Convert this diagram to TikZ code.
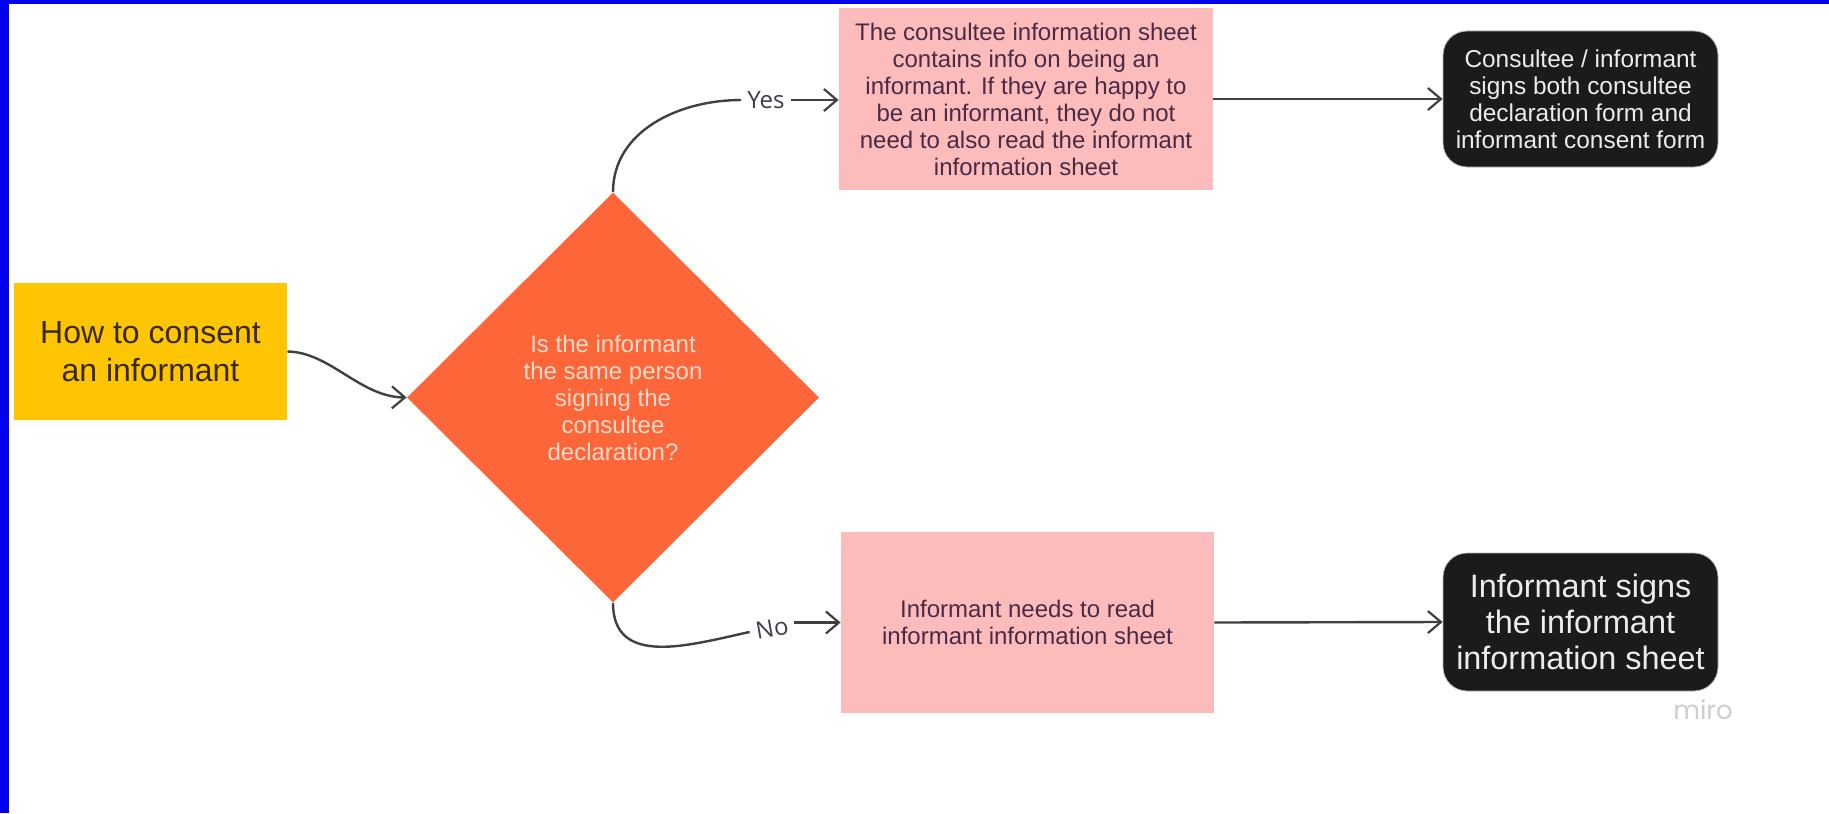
\documentclass[tikz,border=0pt]{standalone}
\usepackage{fontspec}
\setmainfont{Liberation Sans}
\newfontfamily\labelfont{Open Sans}
\newfontfamily\mirofont{Poppins}
\usetikzlibrary{shapes.geometric,arrows.meta}
\definecolor{frameblue}{RGB}{2,0,236}
\definecolor{ybox}{HTML}{FEC502}
\definecolor{ytext}{HTML}{3A2A0C}
\definecolor{dcol}{HTML}{FD6639}
\definecolor{dtext}{HTML}{FADACA}
\definecolor{pbox}{HTML}{FDBCBC}
\definecolor{ptext}{HTML}{4A2A44}
\definecolor{bbox}{HTML}{1B1B1B}
\definecolor{btext}{HTML}{ECECEC}
\definecolor{lineC}{HTML}{404040}
\definecolor{lblC}{HTML}{3E3E4E}
\definecolor{miroC}{HTML}{CDCDD4}
\begin{document}
\begin{tikzpicture}[x=0.5pt,y=-0.5pt,
  conn/.style={draw=lineC, line width=1.2pt},
  arr/.style={conn,-{Straight Barb[length=6.5pt,width=11pt,line width=1.1pt]}},
  pinkbox/.style={fill=pbox, inner sep=0pt, text=ptext, align=center, font=\fontsize{12}{13.5}\selectfont},
  blackbox/.style={fill=bbox, draw=gray!55, line width=0.4pt, rounded corners=12pt, inner sep=0pt, text=btext, align=center},
  lbl/.style={text=lblC, inner sep=3pt, font=\labelfont\fontsize{12}{12}\selectfont}]
\useasboundingbox (0,0) rectangle (1829,813);
\fill[white] (0,0) rectangle (1829,813);

\node[fill=ybox, minimum width=136.5pt, minimum height=68.5pt, inner sep=0pt, text=ytext, align=center, font=\fontsize{16}{19}\selectfont] (start) at (150.5,351.5) {How to consent\\an informant};

\node[diamond, aspect=1, fill=dcol, minimum width=206pt, minimum height=205pt, inner sep=0pt, text=dtext, align=center, font=\fontsize{12}{13.5}\selectfont] (dec) at (613,397.5) {Is the informant\\the same person\\signing the\\consultee\\declaration?};

\node[pinkbox, minimum width=187pt, minimum height=91pt] (p1) at (1026,99) {The consultee information sheet\\contains info on being an\\informant. If they are happy to\\be an informant, they do not\\need to also read the informant\\information sheet};

\node[pinkbox, minimum width=186.5pt, minimum height=90.5pt] (p2) at (1027.5,622.5) {Informant needs to read\\informant information sheet};

\node[blackbox, minimum width=137.5pt, minimum height=68pt, font=\fontsize{12.2}{13.5}\selectfont] (b1) at (1580.5,99) {Consultee / informant\\signs both consultee\\declaration form and\\informant consent form};

\node[blackbox, minimum width=137.5pt, minimum height=69pt, font=\fontsize{16.2}{18}\selectfont] (b2) at (1580.5,622) {Informant signs\\the informant\\information sheet};

\node[lbl] (yes) at (766,100) {Yes};
\node[lbl, rotate=10] (no) at (772,628) {No};

\node[text=miroC, inner sep=0pt, font=\mirofont\fontsize{13}{13}\selectfont] (miro) at (1703,710) {miro};

\draw[arr] (start.east) .. controls (330,352) and (360,397) .. (dec.west);
\draw[conn] (dec.north) .. controls (613,131) and (679,100) .. (yes.west);
\draw[arr] (yes.east) -- (yes.east -| p1.west);
\draw[conn] (dec.south) .. controls (613,668) and (690,645) .. (no.west);
\draw[arr] (no.east |- p2.west) -- (p2.west);
\draw[arr] (p1.east) -- (b1.west);
\draw[arr] (p2.east) -- (b2.west);

\fill[frameblue] (0,0) rectangle (8.5,813);
\fill[frameblue] (0,0) rectangle (1829,4.5);
\end{tikzpicture}
\end{document}
